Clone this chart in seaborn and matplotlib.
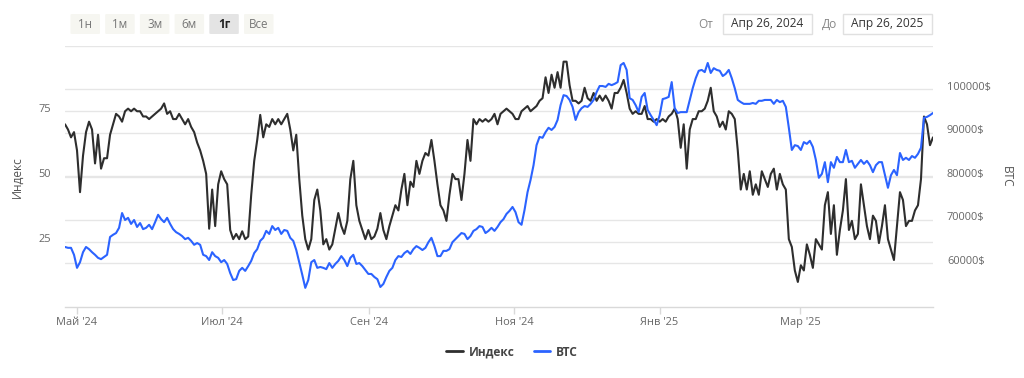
import numpy as np
import pandas as pd
import matplotlib
matplotlib.use("Agg")
import matplotlib.pyplot as plt
from matplotlib.transforms import ScaledTranslation, blended_transform_factory
from matplotlib.patches import FancyBboxPatch, Rectangle
from matplotlib.lines import Line2D
import seaborn as sns

# ---------------- data ----------------
START = "2024-04-26"
END = "2025-04-26"

index_values = [
    70, 68, 65, 67, 60, 44, 58, 67, 71, 68,
    55, 66, 53, 57, 57, 66, 70, 74, 73, 71,
    75, 76, 75, 76, 75, 75, 73, 73, 72, 73,
    74, 75, 76, 78, 74, 75, 72, 72, 74, 72,
    70, 72, 69, 67, 63, 60, 56, 51, 30, 45,
    31, 47, 52, 49, 47, 29.5, 26, 28, 26, 29,
    26, 27, 43, 56, 64, 73.6, 65, 70, 69, 72,
    70, 72, 70, 72, 74, 68, 60, 66, 49, 35,
    26, 22, 26, 41, 45, 37, 24, 26, 22, 24,
    30, 36, 31, 28, 33, 49, 56, 39, 33, 29.5,
    26, 29.5, 26, 27, 30, 36, 29.5, 26, 31, 35,
    39, 37, 45, 51, 39, 48, 46, 56, 51, 56,
    59, 58, 64, 56, 47, 39, 37, 33, 43, 51,
    49, 49, 41, 51, 64, 56, 72, 70, 72, 71,
    72, 71, 72, 74, 70, 74, 75, 76, 75, 74,
    72, 72, 75, 76, 77, 75, 76, 77, 79, 80,
    88, 82, 89, 84, 90, 84, 94, 94, 85, 79,
    79, 78, 79, 84, 80, 79, 82, 79, 81, 79,
    81, 79, 76, 82, 82, 84, 87, 82, 76, 74,
    75, 74, 74, 77, 72, 72, 71, 72, 71, 72,
    71, 73, 74, 76, 72, 61, 70, 53, 68, 72,
    72, 75, 75, 76, 79, 84, 75, 73, 69, 71,
    68, 75, 74, 72, 60, 45, 51, 45, 52, 43,
    47, 43, 52, 49, 46, 51, 53, 45, 51, 47,
    45, 26, 23, 14, 9.6, 16, 14, 24, 20, 15,
    26, 24, 22, 39, 44, 28, 39, 20, 29.5, 37,
    49, 29.5, 33, 26, 28, 47, 39, 31, 26, 35,
    33, 24.5, 31, 39, 26, 22, 18, 31, 44, 41,
    31, 33, 33, 37, 39, 49, 73, 70, 62, 65,
]

btc_values = [
    63800, 63600, 63600, 62000, 59000, 60300, 62600, 63800, 63300, 62600,
    62000, 61300, 61000, 61500, 62000, 66100, 66600, 67000, 68200, 71600,
    70000, 70500, 69100, 70000, 68400, 69300, 67900, 68200, 68900, 67900,
    69500, 71200, 70200, 69500, 70500, 69100, 67900, 67200, 66800, 66300,
    65600, 65900, 65200, 64300, 64700, 64300, 62000, 61700, 60800, 62600,
    61700, 61300, 60300, 60800, 59900, 57800, 56200, 56400, 58300, 59000,
    58300, 59400, 60600, 62400, 63300, 65200, 65900, 67500, 66800, 68600,
    67700, 68200, 66800, 67700, 67500, 65900, 65200, 63100, 60300, 57400,
    54400, 56200, 60300, 60800, 59000, 59200, 59000, 58700, 60100, 59000,
    59900, 60600, 61700, 60800, 59400, 61300, 62000, 59900, 60100, 59400,
    58500, 57600, 57600, 56900, 56400, 54600, 55300, 56900, 58300, 59000,
    60800, 61700, 61500, 62400, 62900, 62200, 63300, 64000, 63600, 63100,
    63600, 64900, 65900, 64000, 61700, 61700, 62900, 62900, 63300, 64900,
    65600, 66300, 67000, 66800, 65600, 66300, 67500, 67900, 68600, 68400,
    67000, 67500, 68200, 67500, 68400, 69500, 70200, 71400, 72100, 73000,
    71800, 69500, 68900, 72300, 76400, 79200, 82600, 87200, 89100, 88900,
    90200, 91200, 90700, 91400, 93000, 96400, 98700, 98500, 97600, 96000,
    93000, 94800, 95700, 96200, 96000, 96700, 97600, 99400, 100800, 100800,
    100600, 101300, 101000, 101300, 101700, 105600, 106100, 104500, 98000, 97600,
    96400, 94800, 98300, 99200, 95300, 94100, 93000, 91800, 94100, 97800,
    98000, 98300, 101700, 95700, 94600, 94800, 94800, 94800, 97600, 100300,
    102600, 104300, 104500, 104000, 106100, 103800, 104900, 104500, 104300, 103100,
    103600, 104500, 102600, 100300, 97600, 97100, 96700, 96700, 96700, 96900,
    96700, 97400, 97400, 97600, 97600, 97600, 96700, 97600, 97100, 97400,
    96000, 91200, 86100, 87200, 87000, 86100, 87900, 87500, 88200, 86800,
    83800, 79700, 80600, 83300, 78700, 83300, 82000, 84500, 83300, 83300,
    86100, 83300, 83600, 82000, 82900, 83800, 82900, 83600, 82600, 81000,
    82600, 83300, 83300, 80300, 77400, 80300, 81500, 80300, 85400, 83800,
    84300, 83800, 84700, 84300, 85200, 86600, 93500, 93700, 94100, 94600,
]

x_tick_dates = ["2024-05-01", "2024-07-01", "2024-09-01", "2024-11-01", "2025-01-01", "2025-03-01"]
x_tick_labels = ["Май '24", "Июл '24", "Сен '24", "Ноя '24", "Янв '25", "Мар '25"]
index_ticks = [25, 50, 75]
index_tick_labels = ["25", "50", "75"]
btc_ticks = [60000, 70000, 80000, 90000, 100000]
btc_tick_labels = ["60000$", "70000$", "80000$", "90000$", "100000$"]
range_buttons = ["1н", "1м", "3м", "6м", "1г", "Все"]
selected_button = "1г"
date_from_label, date_from = "От", "Апр 26, 2024"
date_to_label, date_to = "До", "Апр 26, 2025"
series_names = ["Индекс", "BTC"]

# ---------------- style ----------------
sns.set_theme(style="white")
plt.rcParams["font.family"] = ["Open Sans", "DejaVu Sans"]

BLACK = "#2e2e2e"
BLUE = "#2b63ff"
GRID = "#e6e6e6"
LABEL = "#666666"

W, H = 1024, 378
def fx(x):
    return x / W
def fy(y):
    return 1 - y / H

dates = pd.date_range(START, END, periods=len(index_values))
df = pd.DataFrame({"date": dates, series_names[0]: index_values, series_names[1]: btc_values})

fig = plt.figure(figsize=(W / 100, H / 100), dpi=100)
ax = fig.add_axes([fx(65), fy(307), (933 - 65) / W, (307 - 46) / H])
ax2 = ax.twinx()

ax.set_ylim(0, 100)
ax2.set_ylim(50000, 110000)
ax.set_xlim(dates[0], dates[-1])

# grid lines (both axes) drawn beneath the series
for v in index_ticks + [100]:
    ax.axhline(v, color=GRID, lw=1, zorder=0)
trans_r = blended_transform_factory(ax.transAxes, ax2.transData)
for v in btc_ticks:
    ax.add_line(Line2D([0, 1], [v, v], transform=trans_r, color=GRID, lw=1, zorder=0))

sns.lineplot(data=df, x="date", y=series_names[0], ax=ax, color=BLACK, lw=1.5, legend=False)
sns.lineplot(data=df, x="date", y=series_names[1], ax=ax2, color=BLUE, lw=1.5, legend=False)
ax2.set_xlim(dates[0], dates[-1])

for a in (ax, ax2):
    a.set_xlabel("")
    a.set_ylabel("")
    for s in a.spines.values():
        s.set_visible(False)
    a.grid(False)
ax.spines["bottom"].set_visible(True)
ax.spines["bottom"].set_color("#d9d9d9")
ax.spines["bottom"].set_linewidth(1)

ax.set_xticks(pd.to_datetime(x_tick_dates))
ax.set_xticklabels(x_tick_labels)
ax.tick_params(axis="x", length=5, width=1, color="#d9d9d9", pad=2.5,
               labelsize=7.9, labelcolor=LABEL, bottom=True)

ax.set_yticks(index_ticks)
ax.set_yticklabels(index_tick_labels)
ax.tick_params(axis="y", length=0, pad=10, labelsize=7.9, labelcolor=LABEL, left=True)
ax2.set_yticks(btc_ticks)
ax2.set_yticklabels(btc_tick_labels)
ax2.tick_params(axis="y", length=0, pad=10, labelsize=7.9, labelcolor=LABEL, right=True)

shift = ScaledTranslation(0, 3.5 / 100, fig.dpi_scale_trans)
for lab in ax.get_yticklabels() + ax2.get_yticklabels():
    lab.set_transform(lab.get_transform() + shift)

# axis titles
fig.text(fx(17), fy(177), series_names[0], rotation=90, ha="center", va="center",
         fontsize=8.6, color="#555555")
fig.text(fx(1006), fy(177), series_names[1], rotation=270, ha="center", va="center",
         fontsize=8.6, color="#555555")

# range selector buttons
for i, b in enumerate(range_buttons):
    x0 = 70.5 + i * 34.7
    sel = b == selected_button
    p = FancyBboxPatch((fx(x0), fy(34)), 29.5 / W, 20 / H,
                       boxstyle="round,pad=0,rounding_size=0.002",
                       transform=fig.transFigure,
                       facecolor="#e4e4e4" if sel else "#f6f6f1",
                       edgecolor="none")
    fig.add_artist(p)
    fig.text(fx(x0 + 14.75), fy(24), b, ha="center", va="center", fontsize=8.4,
             color="#222222" if sel else "#777777",
             fontweight="bold" if sel else "normal")

# date range inputs
for lbl, val, lx, bx in [(date_from_label, date_from, 706, 723), (date_to_label, date_to, 830, 843)]:
    fig.text(fx(lx), fy(24), lbl, ha="center", va="center", fontsize=8.6, color="#888888")
    r = Rectangle((fx(bx), fy(34)), 89 / W, 20 / H, transform=fig.transFigure,
                  facecolor="white", edgecolor="#e0e0e0", lw=1)
    fig.add_artist(r)
    fig.text(fx(bx + 44.5), fy(24), val, ha="center", va="center", fontsize=8.6, color="#333333")

# legend
handles = [Line2D([], [], color=BLACK, lw=2), Line2D([], [], color=BLUE, lw=2)]
fig.legend(handles, series_names, loc="center", bbox_to_anchor=(fx(512), fy(352)),
           ncol=2, frameon=False, prop={"weight": "bold", "size": 8.6},
           labelcolor="#444444", handlelength=1.35, handletextpad=0.5, columnspacing=1.6)

fig.savefig("out.png", dpi=100, facecolor="white")
